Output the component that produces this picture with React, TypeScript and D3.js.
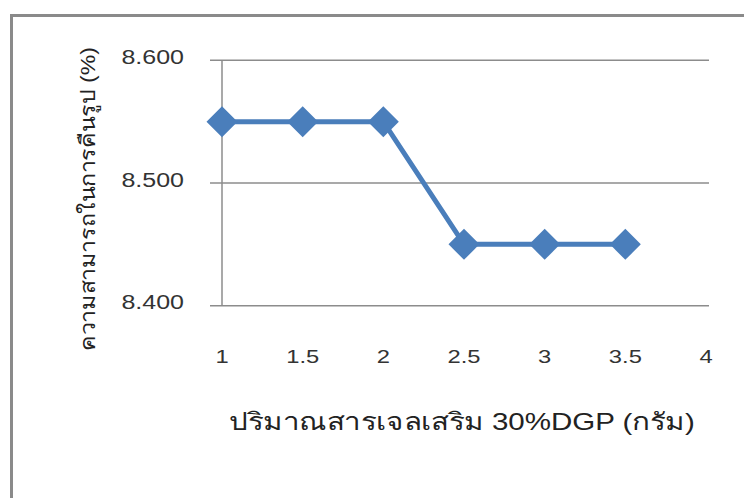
import React from "react";
import * as d3 from "d3";

const xValues = [1, 1.5, 2, 2.5, 3, 3.5];
const yValues = [8.55, 8.55, 8.55, 8.45, 8.45, 8.45];
const xTicks = [1, 1.5, 2, 2.5, 3, 3.5, 4];
const yTicks = [8.4, 8.5, 8.6];
const xTitle = "ปริมาณสารเจลเสริม 30%DGP (กรัม)";
const yTitle = "ความสามารถในการคืนรูป (%)";

const W = 744;
const H = 498;
const FONT = "'Liberation Sans', Arial, sans-serif";

export default function App() {
  const x = d3.scaleLinear().domain([1, 4]).range([222, 706]);
  const y = d3.scaleLinear().domain([8.4, 8.6]).range([305.7, 60.3]);
  const line = d3
    .line<number>()
    .x((_, i) => x(xValues[i]))
    .y((d) => y(d));
  const grid = "#8c8c8c";
  const blue = "#4a7ebb";
  const d = 15.5;
  return (
    <svg
      width={W}
      height={H}
      style={{ position: "absolute", left: 0, top: 0, background: "#fff" }}
    >
      {/* outer frame */}
      <line x1={10} x2={W} y1={15.5} y2={15.5} stroke="#8a8a8a" strokeWidth={3} />
      <line x1={11.5} x2={11.5} y1={14} y2={H} stroke="#8a8a8a" strokeWidth={3} />

      {/* gridlines */}
      {yTicks.map((t) => (
        <line
          key={t}
          x1={210}
          x2={709}
          y1={y(t)}
          y2={y(t)}
          stroke={grid}
          strokeWidth={1.5}
        />
      ))}
      <line x1={x(1)} x2={x(1)} y1={y(8.6)} y2={y(8.4)} stroke={grid} strokeWidth={1.5} />

      {/* y tick labels */}
      {yTicks.map((t) => (
        <text
          key={t}
          transform={`translate(184,${y(t) - 3}) scale(1.25,1)`}
          textAnchor="end"
          dominantBaseline="central"
          fontFamily={FONT}
          fontSize={20}
          fill="#333"
        >
          {d3.format(".3f")(t)}
        </text>
      ))}

      {/* x tick labels */}
      {xTicks.map((t) => (
        <text
          key={t}
          transform={`translate(${x(t)},356.5) scale(1.25,1)`}
          textAnchor="middle"
          dominantBaseline="central"
          fontFamily={FONT}
          fontSize={19}
          fill="#333"
        >
          {t}
        </text>
      ))}

      {/* series */}
      <path d={line(yValues) || ""} fill="none" stroke={blue} strokeWidth={5} />
      {yValues.map((v, i) => {
        const cx = x(xValues[i]);
        const cy = y(v);
        return (
          <path
            key={i}
            d={`M${cx},${cy - d}L${cx + d},${cy}L${cx},${cy + d}L${cx - d},${cy}Z`}
            fill={blue}
          />
        );
      })}

      {/* axis titles */}
      <text
        transform="translate(462,430) scale(1.23,1)"
        textAnchor="middle"
        fontFamily={FONT}
        fontSize={24}
        fill="#222"
      >
        {xTitle}
      </text>
      <text
        transform="translate(95,199) rotate(-90) scale(1.1,1)"
        textAnchor="middle"
        fontFamily={FONT}
        fontSize={21}
        fill="#222"
      >
        {yTitle}
      </text>
    </svg>
  );
}
